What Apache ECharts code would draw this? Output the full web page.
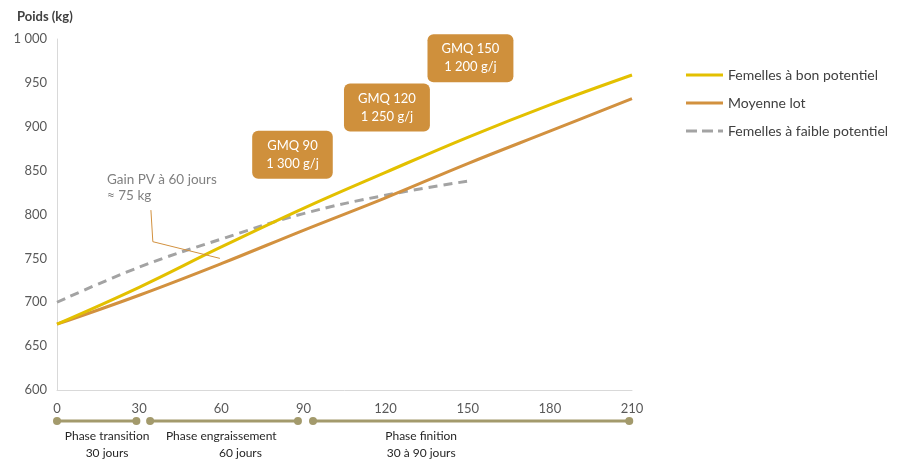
<!DOCTYPE html>
<html>
<head>
<meta charset="utf-8">
<script src="https://cdn.jsdelivr.net/npm/echarts@6/dist/echarts.min.js"></script>
<style>html,body{margin:0;padding:0;background:#fff}#c{width:909px;height:464px}</style>
</head>
<body>
<div id="c"></div>
<script>
// ---- data ----
const days = [0, 30, 60, 90, 120, 150, 180, 210];
const bonPotentiel = [675, 717, 763, 807, 848, 888, 925, 959];
const moyenneLot = [675, 708, 744, 782, 819, 858, 895, 932];
const faibleDays = [0, 30, 60, 90, 120, 150];
const faiblePotentiel = [700, 740, 772, 801, 822, 838];
const seriesNames = ['Femelles à bon potentiel', 'Moyenne lot', 'Femelles à faible potentiel'];
const xTicks = [0, 30, 60, 90, 120, 150, 180, 210];
const yTicks = [600, 650, 700, 750, 800, 850, 900, 950, 1000];

const gmqLabels = ['GMQ 90\n1 300 g/j', 'GMQ 120\n1 250 g/j', 'GMQ 150\n1 200 g/j'];
const gmqAnchorDays = [86, 120.5, 151];
const gmqAnchorValues = [868, 922, 978];

const gainText = 'Gain PV à 60 jours\n≈ 75 kg';
const leaderDays = [34.3, 35, 59.5];
const leaderValues = [805, 769, 750];

const phaseStart = [0, 34, 93.5];
const phaseEnd = [29, 88, 209];
const phaseNames = ['Phase transition', 'Phase engraissement', 'Phase finition'];
const phaseNameDays = [18.3, 60, 133];
const phaseDurations = ['30 jours', '60 jours', '30 à 90 jours'];
const phaseDurationDays = [18.3, 67, 133];

// ---- chart ----
const FONT = 'Lato, "Open Sans", sans-serif';
const colors = ['#e3c000', '#d2913f', '#a3a3a3'];
const legendIcons = ['rect', 'rect', 'path://M0,0h11v3h-11z M16,0h11v3h-11z M32,0h5v3h-5z'];
const chart = echarts.init(document.getElementById('c'));

const zip = (xs, ys) => xs.map((x, i) => [x, ys[i]]);

const phaseSeries = phaseStart.map((s, i) => ({
  type: 'line', xAxisIndex: 1, yAxisIndex: 1, silent: true,
  data: [[s, 0], [phaseEnd[i], 0]],
  symbol: 'circle', symbolSize: 8,
  itemStyle: { color: '#a39a6c' },
  lineStyle: { color: '#a39a6c', width: 3 }
}));

chart.setOption({
  animation: false,
  textStyle: { fontFamily: FONT },
  grid: [
    { left: 57, right: 277, top: 39, bottom: 74, containLabel: false },
    { left: 57, right: 277, top: 411, height: 20, containLabel: false }
  ],
  title: {
    text: 'Poids (kg)', left: 12, top: 5,
    textStyle: { fontFamily: FONT, fontSize: 13, fontWeight: 'bold', color: '#404040' }
  },
  legend: {
    data: seriesNames.map((n, i) => ({ name: n, icon: legendIcons[i] })),
    orient: 'vertical', left: 686, top: 68, padding: 0,
    itemWidth: 37, itemHeight: 3, itemGap: 14,
    textStyle: { fontFamily: FONT, fontSize: 14, color: '#404040' }
  },
  xAxis: [
    {
      type: 'value', gridIndex: 0, min: 0, max: 210, interval: 30,
      axisLine: { show: true, lineStyle: { color: '#d9d9d9', width: 1 } },
      axisTick: { show: false }, splitLine: { show: false },
      axisLabel: { color: '#595959', fontSize: 13, margin: 12, fontFamily: FONT,
        customValues: xTicks }
    },
    { type: 'value', gridIndex: 1, min: 0, max: 210, show: false }
  ],
  yAxis: [
    {
      type: 'value', gridIndex: 0, min: 600, max: 1000, interval: 50,
      axisLine: { show: true, lineStyle: { color: '#d9d9d9', width: 1 } },
      axisTick: { show: false }, splitLine: { show: false },
      axisLabel: { color: '#595959', fontSize: 13, margin: 10, fontFamily: FONT,
        customValues: yTicks,
        formatter: v => v >= 1000 ? String(v).replace(/\B(?=(\d{3})+(?!\d))/g, ' ') : String(v) }
    },
    { type: 'value', gridIndex: 1, min: -1, max: 1, show: false }
  ],
  series: [
    {
      name: seriesNames[0], type: 'line', data: zip(days, bonPotentiel), smooth: 0.4,
      symbol: 'none', color: colors[0], lineStyle: { color: colors[0], width: 3 }, z: 4
    },
    {
      name: seriesNames[1], type: 'line', data: zip(days, moyenneLot), smooth: 0.4,
      symbol: 'none', color: colors[1], lineStyle: { color: colors[1], width: 3 }, z: 3
    },
    {
      name: seriesNames[2], type: 'line', data: zip(faibleDays, faiblePotentiel), smooth: 0.4,
      symbol: 'none', color: colors[2], lineStyle: { color: colors[2], width: 3, type: [9, 6] }, z: 2
    },
    {
      type: 'line', data: zip(leaderDays, leaderValues), symbol: 'none', silent: true,
      lineStyle: { color: '#d2913f', width: 1 }, z: 5
    },
    {
      type: 'scatter', symbolSize: 0, silent: true, z: 10,
      itemStyle: { opacity: 1 },
      data: gmqLabels.map((t, i) => ({ name: t, value: [gmqAnchorDays[i], gmqAnchorValues[i]] })),
      label: {
        show: true, position: 'inside', formatter: '{b}', color: '#ffffff',
        fontFamily: FONT, fontSize: 13, lineHeight: 18, align: 'center',
        backgroundColor: '#cf903c', borderRadius: 6, padding: [6, 14]
      }
    },
    ...phaseSeries,
    {
      type: 'scatter', xAxisIndex: 1, yAxisIndex: 1, symbolSize: 0, silent: true,
      itemStyle: { opacity: 1 },
      data: phaseNames.map((n, i) => ({ name: n, value: [phaseNameDays[i], 0] })),
      label: { show: true, position: 'bottom', distance: 9, formatter: '{b}',
        color: '#262626', fontFamily: FONT, fontSize: 12 }
    },
    {
      type: 'scatter', xAxisIndex: 1, yAxisIndex: 1, symbolSize: 0, silent: true,
      itemStyle: { opacity: 1 },
      data: phaseDurations.map((n, i) => ({ name: n, value: [phaseDurationDays[i], 0] })),
      label: { show: true, position: 'bottom', distance: 26, formatter: '{b}',
        color: '#262626', fontFamily: FONT, fontSize: 12 }
    }
  ],
  graphic: [
    {
      type: 'text', left: 107, top: 172, silent: true,
      style: { text: gainText, fill: '#808080', font: '13.5px ' + FONT, lineHeight: 16 }
    }
  ]
});
</script>
</body>
</html>
